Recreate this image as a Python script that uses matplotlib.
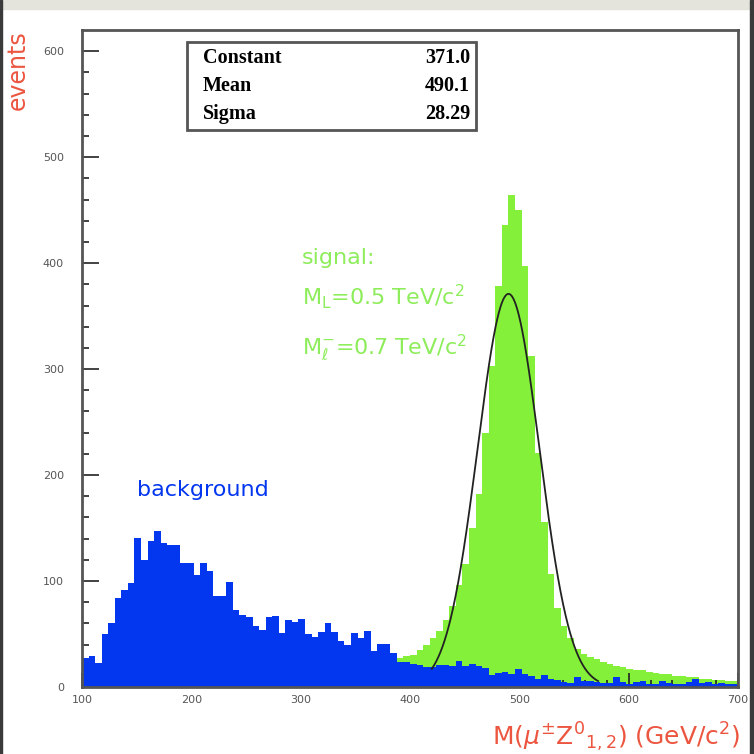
"""Invariant mass of mu +- Z0 pairs: background vs signal with gaussian fit."""
import matplotlib

matplotlib.use("Agg")
import matplotlib.pyplot as plt  # noqa: E402
import numpy as np  # noqa: E402
from matplotlib.patches import Rectangle  # noqa: E402

# --- data ----------------------------------------------------------------
X_MIN, X_MAX, N_BINS = 100, 700, 100

# background counts, one per 6 GeV bin from 100 to 700
background = [
    27, 29, 23, 50, 60, 84, 92, 98, 141, 120,
    138, 147, 136, 134, 134, 117, 117, 106, 117, 109,
    86, 86, 99, 73, 68, 66, 58, 54, 66, 67,
    51, 63, 61, 64, 50, 47, 52, 60, 52, 43,
    40, 51, 46, 53, 34, 41, 41, 32, 24, 24,
    22, 21, 19, 19, 21, 21, 20, 25, 20, 22,
    20, 18, 11, 13, 14, 12, 17, 12, 10, 8,
    11, 8, 7, 5, 4, 9, 6, 6, 5, 4,
    4, 9, 5, 3, 5, 6, 3, 3, 6, 4,
    3, 3, 5, 8, 4, 5, 3, 4, 3, 3,
]

# signal counts, same binning
signal = [
    0, 0, 0, 0, 0, 0, 0, 0, 0, 0,
    0, 0, 0, 0, 0, 0, 0, 0, 0, 0,
    0, 0, 0, 0, 0, 0, 0, 0, 0, 0,
    0, 0, 0, 0, 0, 0, 0, 0, 0, 0,
    0, 0, 0, 0, 0, 20, 22, 24, 27, 29,
    30, 35, 40, 46, 53, 63, 76, 96, 116, 150,
    182, 240, 303, 378, 436, 464, 450, 397, 312, 221,
    156, 107, 75, 58, 46, 36, 31, 28, 26, 24,
    22, 20, 19, 17, 16, 16, 14, 13, 12, 12,
    10, 10, 9, 9, 8, 8, 7, 7, 6, 6,
]

# gaussian fit of the signal peak
fit_names = ["Constant", "Mean", "Sigma"]
fit_values = [371.0, 490.1, 28.29]
fit_range = (420, 572)

RED = "#ec5640"
BLUE = "#0236ef"
GREEN = "#84f03a"
GREEN_TXT = "#8ded5a"


def main() -> None:
    fig = plt.figure(figsize=(7.54, 7.54), dpi=100)
    ax = fig.add_axes([82 / 754, 1 - 687 / 754, 656 / 754, 657 / 754])

    # screenshot frame: grey band on top, dark edges left/right
    fig.patches.append(Rectangle((0, 1 - 9 / 754), 1, 9 / 754, transform=fig.transFigure,
                                 color="#e4e4dc", zorder=0))
    fig.patches.append(Rectangle((0, 0), 2 / 754, 1, transform=fig.transFigure,
                                 color="#3a3a3a", zorder=0))
    fig.patches.append(Rectangle((1 - 4 / 754, 0), 4 / 754, 1, transform=fig.transFigure,
                                 color="#3a3a3a", zorder=0))

    edges = np.linspace(X_MIN, X_MAX, N_BINS + 1)
    ax.stairs(signal, edges, fill=True, color=GREEN, lw=0, zorder=1)
    ax.stairs(background, edges, fill=True, color=BLUE, lw=0, zorder=2)

    const, mean, sigma = fit_values
    xf = np.linspace(*fit_range, 400)
    ax.plot(xf, const * np.exp(-0.5 * ((xf - mean) / sigma) ** 2),
            color="#222222", lw=1.3, zorder=3)

    ax.set_xlim(X_MIN, X_MAX)
    ax.set_ylim(0, 620)
    ax.set_xticks(range(100, 701, 100))
    ax.set_xticks(range(100, 701, 20), minor=True)
    ax.set_yticks(range(0, 601, 100))
    ax.set_yticks(range(0, 601, 20), minor=True)
    ax.tick_params(which="both", direction="in", colors="#222222", width=1.2,
                   labelcolor="#555555", labelsize=8)
    ax.tick_params(axis="y", which="major", length=12, pad=13)
    ax.tick_params(axis="y", which="minor", length=5)
    ax.tick_params(axis="x", which="major", length=10, pad=6)
    ax.tick_params(axis="x", which="minor", length=5)
    for sp in ax.spines.values():
        sp.set_color("#555555")
        sp.set_linewidth(2)

    # stats box
    box = Rectangle((0.160, 0.848), 0.441, 0.134, transform=ax.transAxes, fill=False,
                    edgecolor="#555555", lw=2, zorder=5)
    ax.add_patch(box)
    for k, (name, val) in enumerate(zip(fit_names, fit_values)):
        y = 0.957 - k * 0.0425
        fmt = f"{val:.2f}" if name == "Sigma" else f"{val:.1f}"
        ax.text(0.184, y, name, transform=ax.transAxes, va="center", ha="left",
                family="Liberation Serif", weight="bold", fontsize=14.5)
        ax.text(0.5915, y, fmt, transform=ax.transAxes, va="center", ha="right",
                family="Liberation Serif", weight="bold", fontsize=14.5)

    ax.text(150, 186, "background", color=BLUE, fontsize=16, va="center")
    ax.text(301, 405, "signal:", color=GREEN_TXT, fontsize=16, va="center")
    ax.text(301, 368, r"M$_{\rm L}$=0.5 TeV/c$^{2}$", color=GREEN_TXT, fontsize=16,
            va="center")
    ax.text(301, 320, r"M$_{\ell}^{-}$=0.7 TeV/c$^{2}$", color=GREEN_TXT, fontsize=16,
            va="center")

    fig.text(18 / 754, 1 - 30 / 754, "events", rotation=90, color=RED, fontsize=17,
             ha="center", va="top")
    fig.text(740 / 754, 1 - 737 / 754, r"M($\mu^{\pm}$Z$^{0}$$_{1,2}$) (GeV/c$^{2}$)",
             color=RED, fontsize=18, ha="right", va="center")

    fig.savefig("out.png", dpi=100)
    plt.close(fig)


if __name__ == "__main__":
    main()
